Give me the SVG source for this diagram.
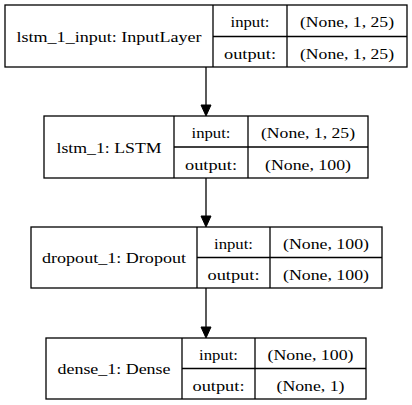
<svg xmlns="http://www.w3.org/2000/svg" width="412" height="405" viewBox="0 0 412 405">
<style>
.box{fill:#fff;stroke:#000;stroke-width:1.3}
.div{fill:none;stroke:#000;stroke-width:1.3}
text{font-family:"Liberation Serif","Times New Roman",Times,serif;font-size:15px;fill:#000;text-anchor:middle}
.edge{stroke:#000;stroke-width:1.3;fill:none}
.head{fill:#000;stroke:#000;stroke-width:1}
</style>
<rect width="412" height="405" fill="#fff"/>
<g id="connectors">
<line class="edge" x1="206" y1="67" x2="206" y2="106"/>
<polygon class="head" points="201,105 211,105 206,116"/>
<line class="edge" x1="206" y1="178" x2="206" y2="217"/>
<polygon class="head" points="201,216 211,216 206,227"/>
<line class="edge" x1="206" y1="288" x2="206" y2="328"/>
<polygon class="head" points="201,327 211,327 206,338"/>
</g>
<g id="lstm_1_input">
<rect class="box" x="5" y="5" width="402" height="62"/>
<line class="div" x1="213" y1="5" x2="213" y2="67"/>
<line class="div" x1="287" y1="5" x2="287" y2="67"/>
<line class="div" x1="213" y1="36.5" x2="407" y2="36.5"/>
<text x="109" y="41.5" textLength="185" lengthAdjust="spacingAndGlyphs">lstm_1_input: InputLayer</text>
<text x="250" y="27" textLength="39" lengthAdjust="spacingAndGlyphs">input:</text>
<text x="250" y="59" textLength="52" lengthAdjust="spacingAndGlyphs">output:</text>
<text x="347" y="27" textLength="94" lengthAdjust="spacingAndGlyphs">(None, 1, 25)</text>
<text x="347" y="59" textLength="94" lengthAdjust="spacingAndGlyphs">(None, 1, 25)</text>
</g>
<g id="lstm_1">
<rect class="box" x="44" y="116" width="324" height="62"/>
<line class="div" x1="174" y1="116" x2="174" y2="178"/>
<line class="div" x1="248" y1="116" x2="248" y2="178"/>
<line class="div" x1="174" y1="147" x2="368" y2="147"/>
<text x="109" y="152.5" textLength="105" lengthAdjust="spacingAndGlyphs">lstm_1: LSTM</text>
<text x="211" y="138" textLength="39" lengthAdjust="spacingAndGlyphs">input:</text>
<text x="211" y="169.5" textLength="52" lengthAdjust="spacingAndGlyphs">output:</text>
<text x="308" y="138" textLength="94" lengthAdjust="spacingAndGlyphs">(None, 1, 25)</text>
<text x="308" y="169.5" textLength="86" lengthAdjust="spacingAndGlyphs">(None, 100)</text>
</g>
<g id="dropout_1">
<rect class="box" x="31" y="227" width="351" height="61"/>
<line class="div" x1="197" y1="227" x2="197" y2="288"/>
<line class="div" x1="270" y1="227" x2="270" y2="288"/>
<line class="div" x1="197" y1="257.5" x2="382" y2="257.5"/>
<text x="114" y="263" textLength="144" lengthAdjust="spacingAndGlyphs">dropout_1: Dropout</text>
<text x="233.5" y="248.5" textLength="39" lengthAdjust="spacingAndGlyphs">input:</text>
<text x="233.5" y="280" textLength="52" lengthAdjust="spacingAndGlyphs">output:</text>
<text x="326" y="248.5" textLength="86" lengthAdjust="spacingAndGlyphs">(None, 100)</text>
<text x="326" y="280" textLength="86" lengthAdjust="spacingAndGlyphs">(None, 100)</text>
</g>
<g id="dense_1">
<rect class="box" x="46" y="338" width="320" height="61"/>
<line class="div" x1="182" y1="338" x2="182" y2="399"/>
<line class="div" x1="255" y1="338" x2="255" y2="399"/>
<line class="div" x1="182" y1="368.5" x2="366" y2="368.5"/>
<text x="114" y="374" textLength="113" lengthAdjust="spacingAndGlyphs">dense_1: Dense</text>
<text x="218.5" y="359.5" textLength="39" lengthAdjust="spacingAndGlyphs">input:</text>
<text x="218.5" y="391" textLength="52" lengthAdjust="spacingAndGlyphs">output:</text>
<text x="310.5" y="359.5" textLength="86" lengthAdjust="spacingAndGlyphs">(None, 100)</text>
<text x="310.5" y="391" textLength="68" lengthAdjust="spacingAndGlyphs">(None, 1)</text>
</g>
</svg>
